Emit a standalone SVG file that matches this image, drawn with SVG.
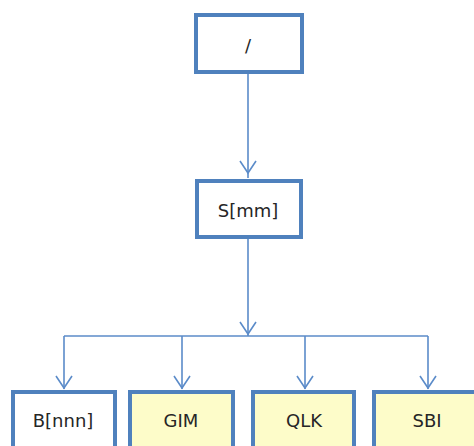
<svg xmlns="http://www.w3.org/2000/svg" width="474" height="446" viewBox="0 0 474 446">
  <style>
    .box { fill: #ffffff; stroke: #4f81bd; stroke-width: 4; }
    .leaf { fill: #fdfcc9; }
    .wire { fill: none; stroke: #5b8bc9; stroke-width: 1.6; }
    .head { fill: none; stroke: #5b8bc9; stroke-width: 1.6; stroke-linejoin: miter; }
    .label { font-family: "DejaVu Sans", "Liberation Sans", sans-serif; font-size: 18px; fill: #262626; text-anchor: middle; dominant-baseline: central; }
  </style>
  <rect width="474" height="446" fill="#ffffff"/>

  <!-- connectors -->
  <g id="connectors">
    <path class="wire" d="M248 74 V178"/>
    <path class="head" d="M240 161 L248 173 L256 161"/>
    <path class="wire" d="M248 239 V336"/>
    <path class="head" d="M240 322 L248 334 L256 322"/>
    <path class="wire" d="M64 336 H428"/>
    <path class="wire" d="M64 336 V389"/>
    <path class="head" d="M56 376 L64 388 L72 376"/>
    <path class="wire" d="M182 336 V389"/>
    <path class="head" d="M174 376 L182 388 L190 376"/>
    <path class="wire" d="M305 336 V389"/>
    <path class="head" d="M297 376 L305 388 L313 376"/>
    <path class="wire" d="M428 336 V389"/>
    <path class="head" d="M420 376 L428 388 L436 376"/>
  </g>

  <!-- root node -->
  <g id="root">
    <rect class="box" x="196" y="15" width="106" height="57"/>
    <text class="label" x="248" y="45">/</text>
  </g>

  <!-- S[mm] node -->
  <g id="smm">
    <rect class="box" x="197" y="181" width="104" height="56"/>
    <text class="label" x="248" y="210">S[mm]</text>
  </g>

  <!-- leaf nodes -->
  <g id="bnnn">
    <rect class="box" x="13" y="392" width="102" height="70"/>
    <text class="label" x="63" y="420">B[nnn]</text>
  </g>
  <g id="gim">
    <rect class="box leaf" x="130" y="392" width="103" height="70"/>
    <text class="label" x="181" y="420">GIM</text>
  </g>
  <g id="qlk">
    <rect class="box leaf" x="253" y="392" width="101" height="70"/>
    <text class="label" x="304" y="420">QLK</text>
  </g>
  <g id="sbi">
    <rect class="box leaf" x="374" y="392" width="110" height="70"/>
    <text class="label" x="427" y="420">SBI</text>
  </g>
</svg>
